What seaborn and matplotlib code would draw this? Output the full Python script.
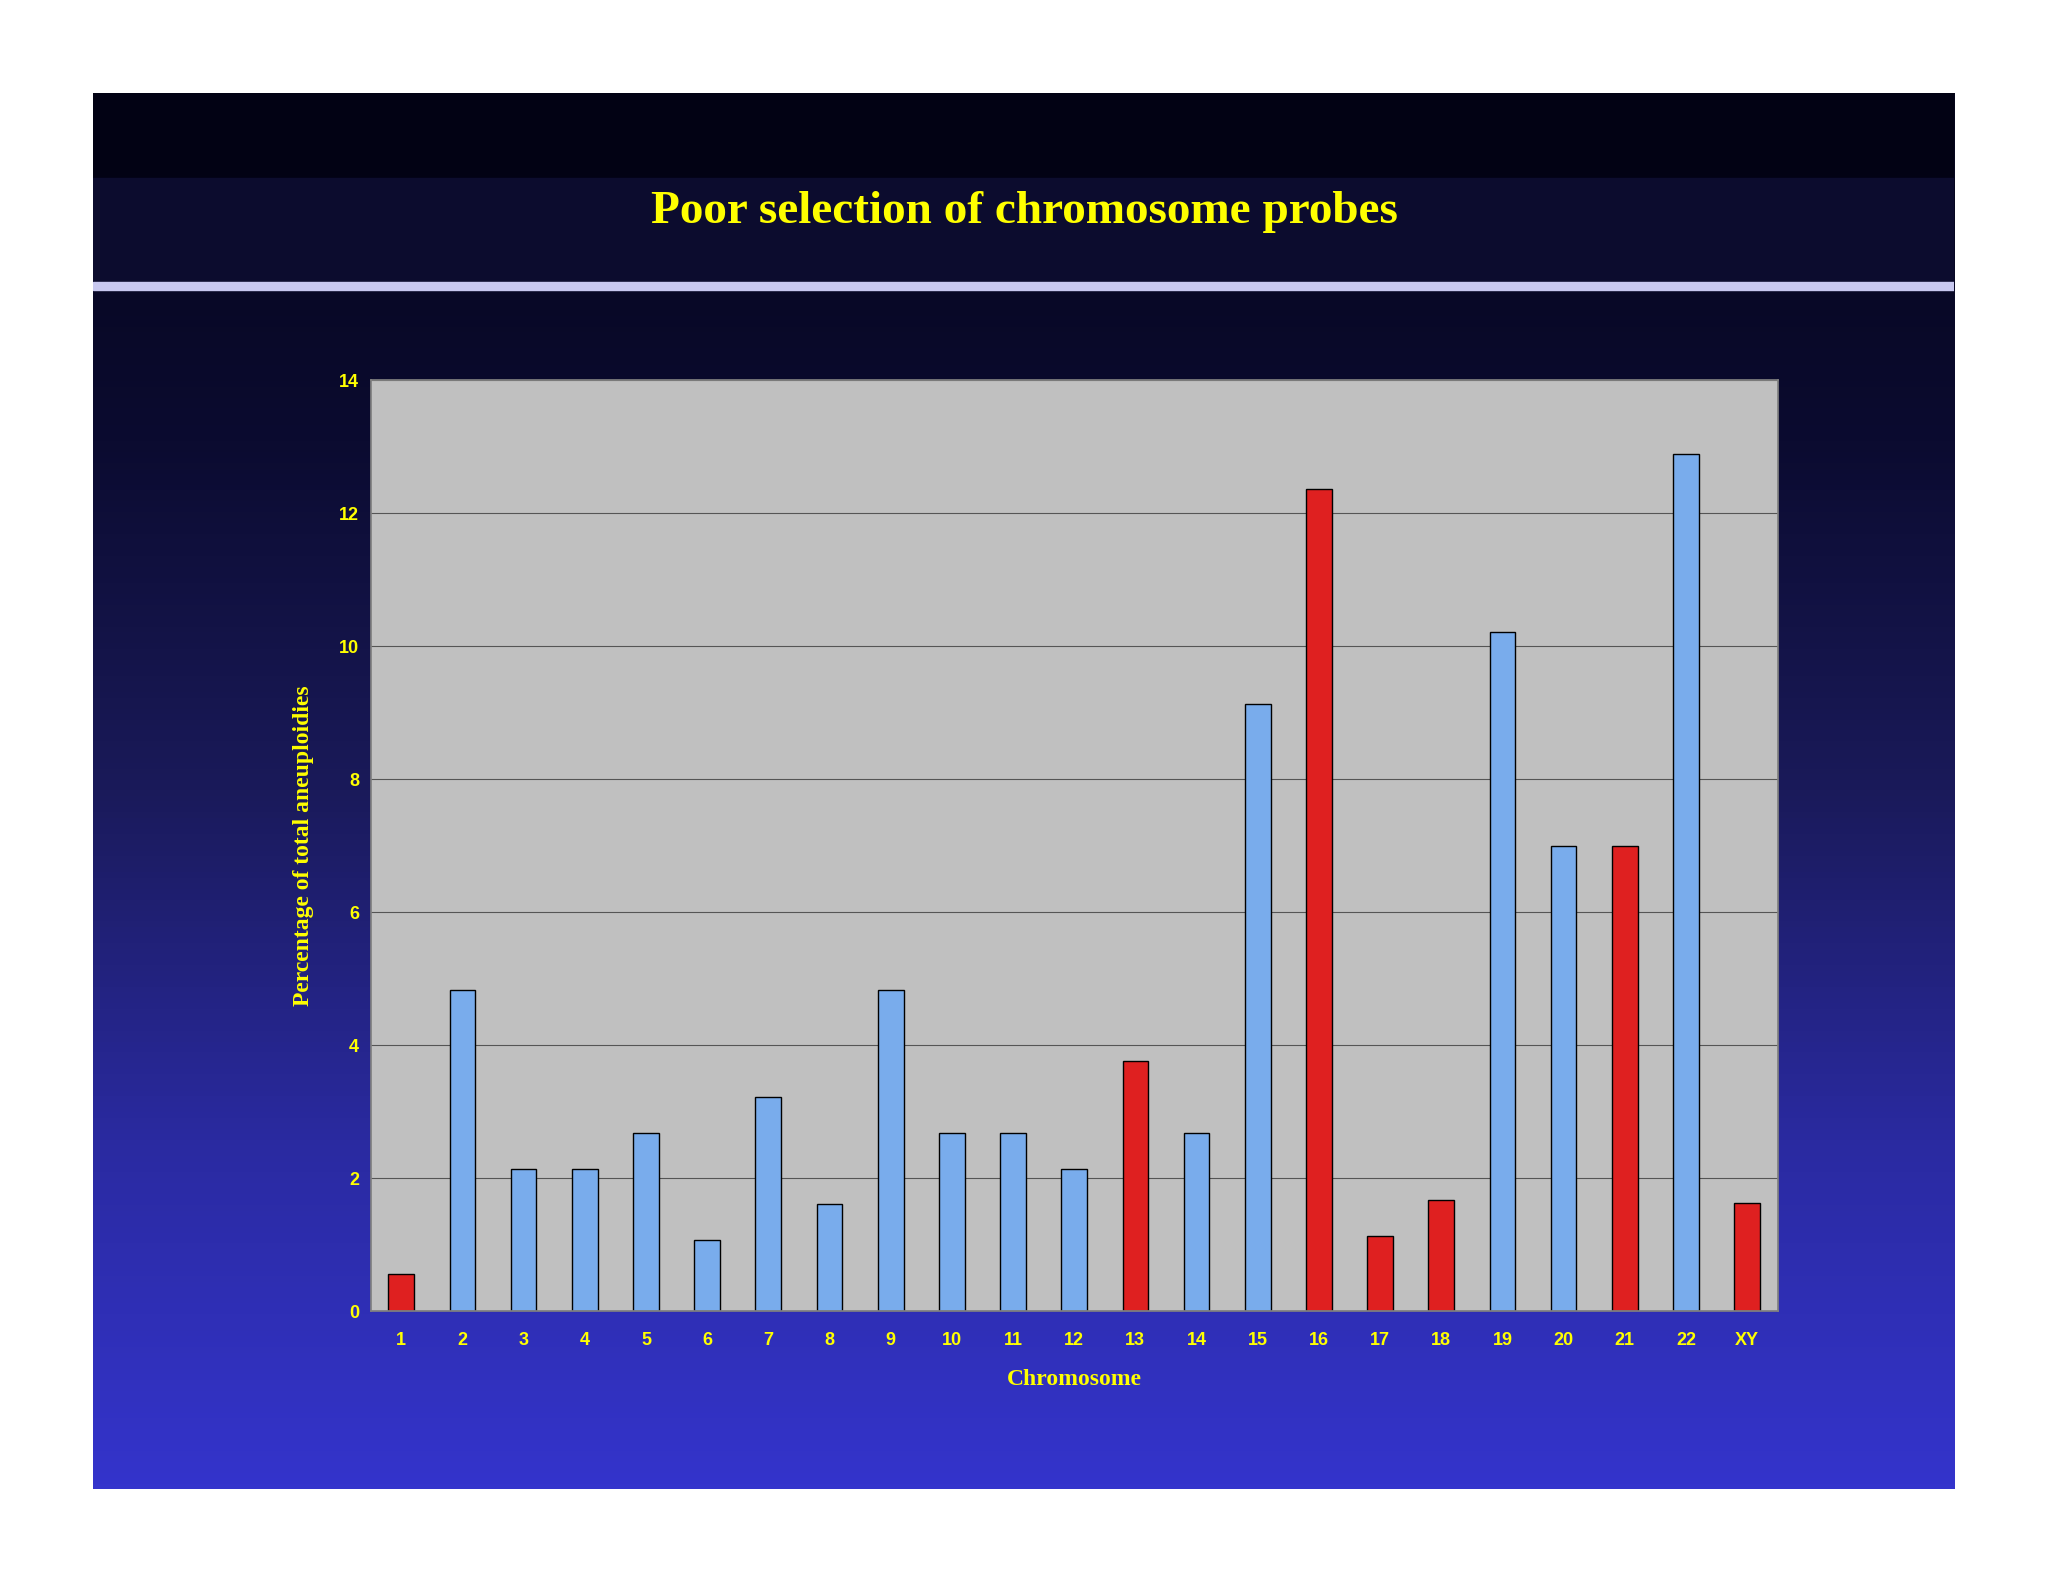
import numpy as np
import pandas as pd
import matplotlib
matplotlib.use("Agg")
import matplotlib.pyplot as plt
import seaborn as sns
from matplotlib.colors import LinearSegmentedColormap

chromosomes = [str(i) for i in range(1, 23)] + ["XY"]
values = [0.57, 4.84, 2.14, 2.14, 2.69, 1.08, 3.22, 1.61, 4.84, 2.69, 2.69, 2.14,
          3.76, 2.69, 9.14, 12.37, 1.14, 1.67, 10.22, 7.0, 7.0, 12.9, 1.63]
selected = ["1", "13", "16", "17", "18", "21", "XY"]

df = pd.DataFrame({"chrom": chromosomes, "pct": values})
df["group"] = np.where(df["chrom"].isin(selected), "sel", "other")

sns.set_theme(style="white")
plt.rcParams['font.family'] = ['Liberation Sans', 'DejaVu Sans']

fig = plt.figure(figsize=(20.48, 15.82), dpi=100)
fig.patch.set_facecolor("white")

# slide background
L, R, B, T = 0.0453, 0.954, 0.0587, 0.9413
bg = fig.add_axes([L, B, R - L, T - B])
bg.set_axis_off()
cmap = LinearSegmentedColormap.from_list("g", ["#05051a", "#0b0b30", "#1a1a5a", "#2a2aa0", "#3434cc"])
grad = np.linspace(0, 1, 256).reshape(-1, 1)
bg.imshow(grad, aspect="auto", cmap=cmap, extent=[0, 1, 0, 1], origin="upper")
bg.set_xlim(0, 1); bg.set_ylim(0, 1)
# header bands
bg.axhspan(1 - 65/1068, 1, color="#020214")
bg.axhspan(1 - 144/1068, 1 - 65/1068, color="#0c0c2e")
bg.axhspan(1 - 151/1068, 1 - 145/1068, color="#c8c8f0")
fig.text(0.5, 0.866, "Poor selection of chromosome probes", ha="center", va="center",
         color="#ffff00", fontsize=34, fontweight="bold", family=["Liberation Serif", "DejaVu Serif"])

ax = fig.add_axes([0.181, 0.171, 0.868 - 0.181, 0.7595 - 0.171])
ax.set_facecolor("#c0c0c0")
sns.barplot(data=df, x="chrom", y="pct", hue="group", palette={"sel": "#ff0000", "other": "#66aaff"},
            dodge=False, width=0.42, edgecolor="black", linewidth=1, legend=False, ax=ax)
ax.set_ylim(0, 14)
ax.set_yticks(range(0, 15, 2))
ax.set_xlim(-0.5, len(chromosomes) - 0.5)
ax.yaxis.grid(True, color="#555555", linewidth=0.8)
ax.set_axisbelow(True)
for s in ax.spines.values():
    s.set_color("#808080")
ax.tick_params(axis="both", colors="#808080", labelcolor="#ffff00", labelsize=13, length=5, direction="out")
ax.tick_params(axis="x", pad=10)
for lab in ax.get_xticklabels() + ax.get_yticklabels():
    lab.set_fontweight("bold")
ax.set_xlabel("Chromosome", color="#ffff00", fontsize=17, fontweight="bold",
              family=["Liberation Serif", "DejaVu Serif"], labelpad=14)
ax.set_ylabel("Percentage of total aneuploidies", color="#ffff00", fontsize=17, fontweight="bold",
              family=["Liberation Serif", "DejaVu Serif"], labelpad=18)

fig.savefig("out.png", dpi=100, facecolor="white")
